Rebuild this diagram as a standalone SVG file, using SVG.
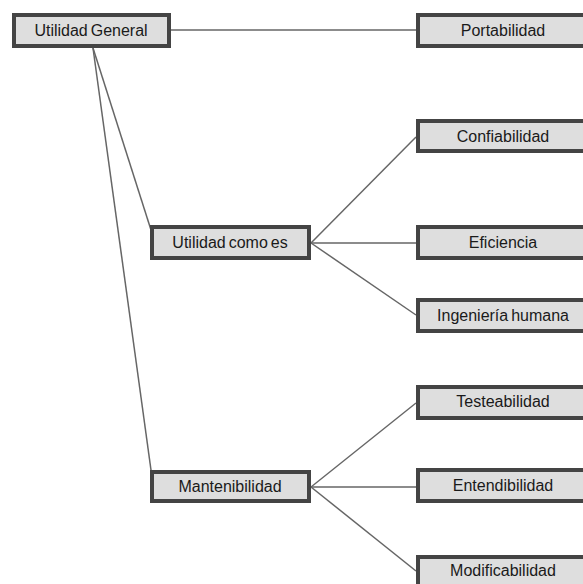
<svg xmlns="http://www.w3.org/2000/svg" width="583" height="584" viewBox="0 0 583 584">
<style>
.box{fill:#dedede;stroke:#444;stroke-width:4}
.lbl{font-family:"Liberation Sans",Arial,sans-serif;font-size:16px;fill:#1a1a1a;text-anchor:middle;word-spacing:-1.5px}
.con{stroke:#666;stroke-width:1.5;fill:none}
</style>
<rect width="583" height="584" fill="#fff"/>
<g id="connectors">
<line class="con" x1="171" y1="30" x2="416" y2="30"/>
<line class="con" x1="93" y1="48" x2="151" y2="230"/>
<line class="con" x1="93" y1="48" x2="151" y2="470"/>
<line class="con" x1="311" y1="243" x2="416" y2="137"/>
<line class="con" x1="311" y1="243" x2="416" y2="243"/>
<line class="con" x1="311" y1="243" x2="416" y2="315"/>
<line class="con" x1="311" y1="487" x2="416" y2="403"/>
<line class="con" x1="311" y1="487" x2="416" y2="487"/>
<line class="con" x1="311" y1="487" x2="416" y2="571"/>
</g>
<g id="utilidad-general"><rect class="box" x="14" y="15" width="155" height="31"/><text class="lbl" x="91" y="36">Utilidad General</text></g>
<g id="portabilidad"><rect class="box" x="418" y="15" width="180" height="31"/><text class="lbl" x="503" y="36">Portabilidad</text></g>
<g id="utilidad-como-es"><rect class="box" x="152" y="227" width="157" height="31"/><text class="lbl" x="230" y="248">Utilidad como es</text></g>
<g id="confiabilidad"><rect class="box" x="418" y="121" width="180" height="30"/><text class="lbl" x="503" y="142">Confiabilidad</text></g>
<g id="eficiencia"><rect class="box" x="418" y="227" width="180" height="31"/><text class="lbl" x="503" y="248">Eficiencia</text></g>
<g id="ingenieria-humana"><rect class="box" x="418" y="300" width="180" height="31"/><text class="lbl" x="503" y="321">Ingeniería humana</text></g>
<g id="mantenibilidad"><rect class="box" x="152" y="472" width="157" height="29"/><text class="lbl" x="230" y="492">Mantenibilidad</text></g>
<g id="testeabilidad"><rect class="box" x="418" y="387" width="180" height="31"/><text class="lbl" x="503" y="407">Testeabilidad</text></g>
<g id="entendibilidad"><rect class="box" x="418" y="470" width="180" height="31"/><text class="lbl" x="503" y="491">Entendibilidad</text></g>
<g id="modificabilidad"><rect class="box" x="418" y="557" width="180" height="40"/><text class="lbl" x="503" y="576">Modificabilidad</text></g>
</svg>
